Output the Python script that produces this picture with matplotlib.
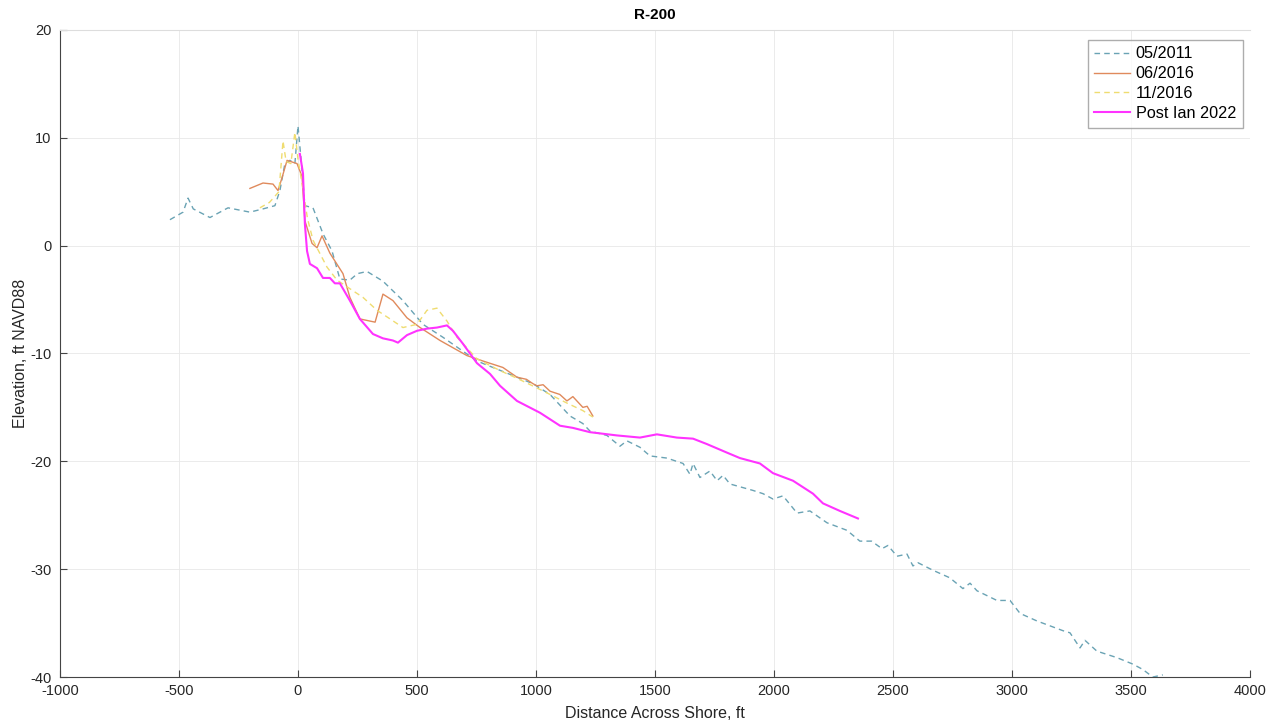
import matplotlib
matplotlib.use("Agg")
import matplotlib.pyplot as plt

plt.rcParams['font.family'] = ['Liberation Sans', 'DejaVu Sans']
plt.rcParams['axes.unicode_minus'] = False

# 05/2011 survey
x_2011 = [-538, -483, -462, -440, -370, -294, -202, -147, -97, -76, -55, -34, -13, 0, 17, 29, 63,
          105, 143, 176, 218, 250, 290, 357, 441, 525, 609, 752, 920, 987, 1059, 1143, 1197, 1227,
          1298, 1353, 1382, 1437, 1479, 1550, 1618, 1647, 1660, 1689, 1731, 1761, 1786, 1815,
          1912, 1954, 1996, 2038, 2097, 2151, 2223, 2307, 2361, 2410, 2454, 2479, 2517, 2559,
          2584, 2605, 2668, 2739, 2794, 2824, 2853, 2937, 2992, 3034, 3105, 3214, 3244, 3286,
          3307, 3357, 3441, 3508, 3550, 3592, 3634]
y_2011 = [2.4, 3.1, 4.4, 3.4, 2.6, 3.5, 3.1, 3.4, 3.7, 5.1, 7.6, 7.9, 7.6, 11.1, 7.0, 3.7, 3.5,
          1.1, -0.5, -3.1, -3.2, -2.6, -2.4, -3.3, -5.1, -7.3, -8.5, -10.7, -12.2, -12.8, -13.8,
          -15.8, -16.5, -17.2, -17.6, -18.6, -18.1, -18.7, -19.5, -19.7, -20.2, -21.2, -20.2,
          -21.5, -20.9, -21.8, -21.3, -22.1, -22.7, -23.0, -23.5, -23.2, -24.8, -24.6, -25.7,
          -26.4, -27.4, -27.4, -28.1, -27.8, -28.8, -28.6, -29.7, -29.4, -30.1, -30.8, -31.8,
          -31.3, -32.0, -32.9, -32.9, -34.1, -34.8, -35.7, -35.9, -37.3, -36.6, -37.6, -38.2,
          -38.8, -39.3, -40.0, -39.8]

# 06/2016 survey
x_jun16 = [-202, -147, -105, -84, -67, -46, -4, 17, 29, 59, 80, 101, 134, 189, 218, 260, 324, 357,
           399, 458, 513, 597, 710, 777, 861, 920, 960, 987, 1004, 1030, 1059, 1100, 1130, 1143,
           1155, 1197, 1215, 1239]
y_jun16 = [5.3, 5.8, 5.7, 5.1, 6.3, 7.9, 7.6, 6.4, 2.3, 0.2, -0.2, 0.9, -0.7, -2.6, -4.8, -6.8,
           -7.1, -4.5, -5.1, -6.7, -7.6, -8.8, -10.2, -10.7, -11.3, -12.2, -12.4, -12.8, -13.0,
           -12.9, -13.5, -13.8, -14.4, -14.2, -14.0, -15.0, -14.9, -15.8]

# 11/2016 survey
x_nov16 = [-160, -120, -80, -63, -50, -30, -13, 0, 15, 40, 63, 122, 164, 218, 273, 332, 387, 441,
           500, 542, 584, 626, 668, 752, 850, 920, 1004, 1059, 1130, 1197, 1239]
y_nov16 = [3.5, 4.0, 5.0, 9.7, 7.8, 7.6, 10.5, 8.0, 6.0, 2.5, 0.5, -2.0, -3.2, -4.0, -4.8, -6.0,
           -6.8, -7.6, -7.3, -6.0, -5.8, -7.0, -8.5, -10.5, -11.6, -12.3, -13.2, -13.8, -14.6,
           -15.3, -15.9]

# Post Ian 2022 survey
x_ian = [8, 21, 29, 38, 50, 80, 105, 134, 155, 176, 218, 260, 315, 357, 399, 420, 458, 500, 542,
         584, 626, 651, 693, 752, 807, 849, 920, 1017, 1101, 1155, 1227, 1340, 1437, 1508, 1592,
         1660, 1718, 1803, 1857, 1941, 1996, 2080, 2164, 2206, 2277, 2353]
y_ian = [8.5, 6.7, 2.0, -0.5, -1.7, -2.1, -3.0, -3.0, -3.5, -3.5, -5.1, -6.8, -8.2, -8.6, -8.8,
         -9.0, -8.3, -7.9, -7.7, -7.6, -7.4, -7.9, -9.1, -10.9, -11.9, -13.0, -14.4, -15.5,
         -16.7, -16.9, -17.3, -17.6, -17.8, -17.5, -17.8, -17.9, -18.4, -19.2, -19.7, -20.2,
         -21.1, -21.8, -23.0, -23.9, -24.6, -25.3]

labels = ['05/2011', '06/2016', '11/2016', 'Post Ian 2022']
x_ticks = [-1000, -500, 0, 500, 1000, 1500, 2000, 2500, 3000, 3500, 4000]
y_ticks = [-40, -30, -20, -10, 0, 10, 20]

fig = plt.figure(figsize=(12.85, 7.28), dpi=100)
ax = fig.add_axes([0.0467, 0.070, 0.926, 0.889])

ax.plot(x_2011, y_2011, color='#6aa3b4', lw=1.0, dashes=(4, 3), label=labels[0], zorder=3)
ax.plot(x_jun16, y_jun16, color='#e08a5c', lw=1.0, label=labels[1], zorder=3)
ax.plot(x_nov16, y_nov16, color='#efdc70', lw=1.0, dashes=(4, 3), label=labels[2], zorder=3)
ax.plot(x_ian, y_ian, color='#ff33ff', lw=1.5, label=labels[3], zorder=4)

ax.set_xlim(-1000, 4000)
ax.set_ylim(-40, 20)
ax.set_xticks(x_ticks)
ax.set_yticks(y_ticks)
ax.grid(True, color='#e8e8e8', lw=0.6)
ax.set_axisbelow(True)

ax.spines['right'].set_visible(False)
ax.spines['top'].set_color('#dddddd')
ax.spines['left'].set_color('#444444')
ax.spines['bottom'].set_color('#444444')
ax.spines['left'].set_linewidth(0.8)
ax.spines['bottom'].set_linewidth(0.8)
ax.tick_params(direction='in', length=5, width=0.8, color='#444444', labelsize=10.5,
               labelcolor='#262626', top=False, right=False)
ax.tick_params(axis='x', pad=5)
ax.tick_params(axis='y', pad=6)

ax.set_title('R-200', fontsize=11, fontweight='bold', pad=8)
ax.set_xlabel('Distance Across Shore, ft', fontsize=11.5, color='#262626', labelpad=6)
ax.set_ylabel('Elevation, ft NAVD88', fontsize=11.5, color='#262626', labelpad=2)

leg = ax.legend(loc='upper right', fontsize=11.7, frameon=True, fancybox=False,
                edgecolor='#999999', handlelength=2.2, handletextpad=0.35,
                borderaxespad=0.3, labelspacing=0.3, borderpad=0.4,
                bbox_to_anchor=(0.998, 0.992))
leg.get_frame().set_linewidth(1.0)

fig.savefig('out.png', dpi=100, facecolor='white')
